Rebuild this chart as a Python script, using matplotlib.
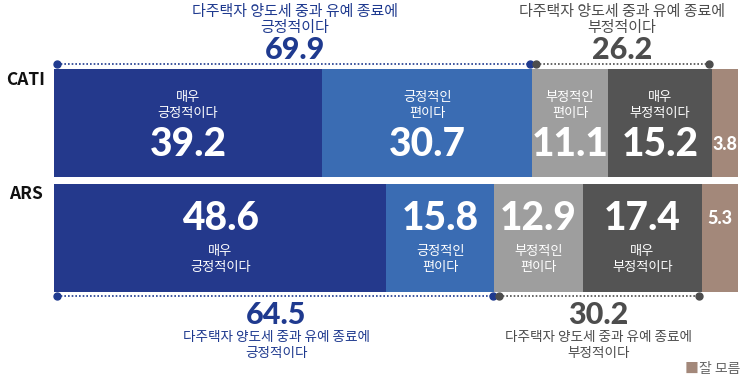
import matplotlib
matplotlib.use("Agg")
import matplotlib.pyplot as plt

plt.rcParams['font.family'] = ['Noto Sans CJK KR', 'DejaVu Sans']

rows = ['CATI', 'ARS']
labels = ['매우\n긍정적이다', '긍정적인\n편이다', '부정적인\n편이다', '매우\n부정적이다', '잘 모름']
cati = [39.2, 30.7, 11.1, 15.2, 3.8]
ars = [48.6, 15.8, 12.9, 17.4, 5.3]
pos_tot = [69.9, 64.5]
neg_tot = [26.2, 30.2]
colors = ['#24398c', '#3a6cb3', '#9e9e9e', '#545454', '#a3887a']
head1 = '다주택자 양도세 중과 유예 종료에'
head2 = ['긍정적이다', '부정적이다']

blue_txt = '#1f3a8f'
gray_txt = '#4d4d4d'
numfont = ['Lato', 'DejaVu Sans']

W, H = 754, 381
fig = plt.figure(figsize=(W / 100, H / 100), dpi=100)
ax = fig.add_axes([0, 0, 1, 1])
ppu = 6.84   # pixels per percent
x0 = 54
ax.set_xlim(-x0 / ppu, (W - x0) / ppu)
ax.set_ylim(H, 0)
ax.axis('off')


def two_lines(x, y1, y2, txt, col, fs):
    a, b = txt.split('\n')
    ax.text(x, y1, a, color=col, fontsize=fs, fontweight='medium', ha='center', va='center')
    ax.text(x, y2, b, color=col, fontsize=fs, fontweight='medium', ha='center', va='center')


def num(x, y, v, col, fs):
    ax.text(x, y, f'{v}', color=col, fontsize=fs, fontweight='black', family=numfont,
            ha='center', va='center')


ycent = [123, 238]
bh = 108
for r, vals in enumerate([cati, ars]):
    left = 0
    for i, v in enumerate(vals):
        ax.barh(ycent[r], v, left=left, height=bh, color=colors[i], linewidth=0)
        cx = left + v / 2
        if i == 4:
            num(cx, 144 if r == 0 else 218, v, 'white', 13)
        elif r == 0:
            two_lines(cx, 97, 113, labels[i], 'white', 9.5)
            num(cx, 145, v, 'white', 28)
        else:
            num(cx, 218, v, 'white', 28)
            two_lines(cx, 252, 268, labels[i], 'white', 9.5)
        left += v
    ax.text(-x0 / ppu + 26 / ppu, 80 if r == 0 else 194, rows[r], fontsize=12.5,
            fontweight='bold', ha='center', va='center', color='#111111')


def bracket(y, a, b, col):
    ax.plot([a, b], [y, y], color=col, linestyle=(0, (1, 1.2)), linewidth=1.2)
    ax.plot([a, b], [y, y], linestyle='none', marker='o', markersize=5, color=col)


# top brackets (CATI)
bracket(64, 0.45, pos_tot[0] - 0.35, blue_txt)
bracket(64, pos_tot[0] + 0.5, pos_tot[0] + neg_tot[0] - 0.4, gray_txt)
pc = (0.45 + pos_tot[0]) / 2
nc = (pos_tot[0] + pos_tot[0] + neg_tot[0]) / 2
for cx, col, h2, val in [(pc, blue_txt, head2[0], pos_tot[0]), (nc, gray_txt, head2[1], neg_tot[0])]:
    two_lines(cx, 12, 28, head1 + '\n' + h2, col, 10.8)
    num(cx, 50, val, col, 22)

# bottom brackets (ARS)
bracket(296, 0.45, pos_tot[1] - 0.35, blue_txt)
bracket(296, pos_tot[1] + 0.6, pos_tot[1] + neg_tot[1] - 0.4, gray_txt)
pc = (0.45 + pos_tot[1]) / 2
nc = (pos_tot[1] + pos_tot[1] + neg_tot[1]) / 2
for cx, col, h2, val in [(pc, blue_txt, head2[0], pos_tot[1]), (nc, gray_txt, head2[1], neg_tot[1])]:
    num(cx, 315, val, col, 22)
    two_lines(cx, 337, 353, head1 + '\n' + h2, col, 9.8)

# legend
ax.text((698 - x0) / ppu, 369, '■', color=colors[4], fontsize=10, ha='right', va='center')
ax.text((699 - x0) / ppu, 369, labels[4], color='#666666', fontsize=10, ha='left', va='center')

fig.savefig('out.png', dpi=100)
